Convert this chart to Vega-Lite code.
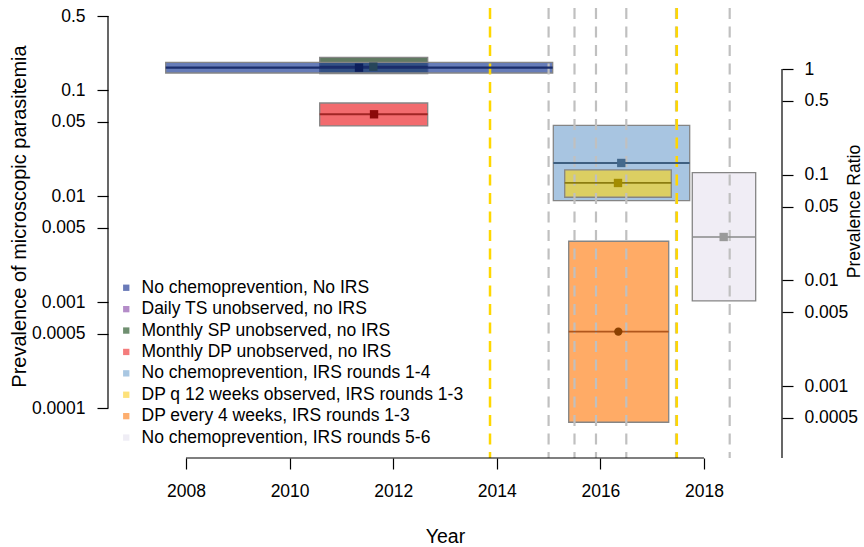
{
  "$schema": "https://vega.github.io/schema/vega-lite/v6.json",
  "width": 674,
  "height": 450,
  "autosize": "none",
  "padding": {"left": 108, "top": 8, "right": 82, "bottom": 89},
  "background": "white",
  "config": {
    "view": {"stroke": null},
    "font": "Liberation Sans",
    "axis": {
      "labelFont": "Liberation Sans", "titleFont": "Liberation Sans",
      "labelFontSize": 17.5, "titleFontSize": 17.5, "titleFontWeight": "normal",
      "labelColor": "black", "titleColor": "black", "tickColor": "black",
      "domain": false, "grid": false, "tickSize": 11, "tickWidth": 1.2
    },
    "legend": {
      "labelFont": "Liberation Sans", "labelFontSize": 17.5, "labelColor": "black", "labelLimit": 500
    }
  },
  "datasets": {
    "boxes": [
      {"group": "Monthly SP unobserved, no IRS", "start": 2010.581, "end": 2012.666, "lo": 0.1428, "hi": 0.2039, "med": 0.1662, "pt": 2011.616},
      {"group": "No chemoprevention, No IRS", "start": 2007.608, "end": 2015.079, "lo": 0.145, "hi": 0.1829, "med": 0.1627, "pt": 2011.34},
      {"group": "Monthly DP unobserved, no IRS", "start": 2010.581, "end": 2012.666, "lo": 0.0459, "hi": 0.0755, "med": 0.0591, "pt": 2011.63},
      {"group": "No chemoprevention, IRS rounds 1-4", "start": 2015.091, "end": 2017.724, "lo": 0.00905, "hi": 0.04655, "med": 0.02052, "pt": 2016.403},
      {"group": "DP q 12 weeks observed, IRS rounds 1-3", "start": 2015.311, "end": 2017.369, "lo": 0.00974, "hi": 0.01763, "med": 0.01329, "pt": 2016.34},
      {"group": "DP every 4 weeks, IRS rounds 1-3", "start": 2015.388, "end": 2017.319, "lo": 0.0000734, "hi": 0.003746, "med": 0.000526, "pt": 2016.346},
      {"group": "No chemoprevention, IRS rounds 5-6", "start": 2017.774, "end": 2018.998, "lo": 0.001024, "hi": 0.01662, "med": 0.00411, "pt": 2018.38}
    ],
    "grayLines": [{"year": 2015.0}, {"year": 2015.5}, {"year": 2015.915}, {"year": 2016.5}, {"year": 2017.46}, {"year": 2018.496}],
    "goldLines": [{"year": 2013.869}, {"year": 2017.475}],
    "xAxisLine": [{"from": 2008, "to": 2018}],
    "leftAxisLine": [{"top": 0.5, "bottom": 0.0001}],
    "rightAxisLine": [{"top": 1, "bottom": 0.000209}]
  },
  "layer": [
    {
      "resolve": {"scale": {"color": "independent", "shape": "independent", "size": "independent", "strokeWidth": "independent"}},
      "layer": [
        {
          "data": {"name": "boxes"},
          "mark": {"type": "rect", "stroke": "#858585", "strokeWidth": 1.3},
          "encoding": {
            "x": {"field": "start", "type": "quantitative", "scale": {"domain": [2006.494, 2019.506], "nice": false, "zero": false},
                  "axis": {"title": "Year", "values": [2008, 2010, 2012, 2014, 2016, 2018], "format": "d", "labelPadding": 13, "titleX": 337, "titleY": 78, "titleBaseline": "middle", "titleFontSize": 19.5}},
            "x2": {"field": "end"},
            "y": {"field": "lo", "type": "quantitative", "scale": {"type": "log", "domain": [0.00003376, 0.595], "nice": false},
                  "axis": {"title": "Prevalence of microscopic parasitemia", "values": [0.5, 0.1, 0.05, 0.01, 0.005, 0.001, 0.0005, 0.0001], "format": ".4~f", "labelPadding": 12, "titleX": -89, "titleY": 208, "titleBaseline": "middle", "titleAlign": "center", "titleAngle": 270, "titleFontSize": 20}},
            "y2": {"field": "hi"},
            "color": {"field": "group", "type": "nominal", "legend": null,
                      "scale": {"domain": ["No chemoprevention, No IRS", "Daily TS unobserved, no IRS", "Monthly SP unobserved, no IRS", "Monthly DP unobserved, no IRS", "No chemoprevention, IRS rounds 1-4", "DP q 12 weeks observed, IRS rounds 1-3", "DP every 4 weeks, IRS rounds 1-3", "No chemoprevention, IRS rounds 5-6"],
                                "range": ["rgba(30,62,150,0.68)", "#b48cc8", "#617a62", "#f26b6e", "#a8c5e1", "#dccf62", "#ffab66", "#f0edf5"]}}
          }
        },
        {
          "data": {"name": "grayLines"},
          "mark": {"type": "rule", "color": "#c0c0c0", "strokeWidth": 2.2, "strokeDash": [11, 7.5]},
          "encoding": {"x": {"field": "year", "type": "quantitative"}}
        },
        {
          "data": {"name": "goldLines"},
          "mark": {"type": "rule", "color": "#ffd700", "strokeWidth": 2.5, "strokeDash": [11, 7.5]},
          "encoding": {"x": {"field": "year", "type": "quantitative"}}
        },
        {
          "data": {"name": "boxes"},
          "mark": {"type": "rule"},
          "encoding": {
            "x": {"field": "start", "type": "quantitative"},
            "x2": {"field": "end"},
            "y": {"field": "med", "type": "quantitative"},
            "color": {"field": "group", "type": "nominal", "legend": null,
                      "scale": {"domain": ["No chemoprevention, No IRS", "Daily TS unobserved, no IRS", "Monthly SP unobserved, no IRS", "Monthly DP unobserved, no IRS", "No chemoprevention, IRS rounds 1-4", "DP q 12 weeks observed, IRS rounds 1-3", "DP every 4 weeks, IRS rounds 1-3", "No chemoprevention, IRS rounds 5-6"],
                                "range": ["#1a2d6b", "#6a4a80", "#1a2d6b", "#a12525", "#3e5f80", "#8c7c10", "#b0561c", "#8a8a8a"]}},
            "strokeWidth": {"field": "group", "type": "nominal", "legend": null,
                      "scale": {"domain": ["No chemoprevention, No IRS", "Daily TS unobserved, no IRS", "Monthly SP unobserved, no IRS", "Monthly DP unobserved, no IRS", "No chemoprevention, IRS rounds 1-4", "DP q 12 weeks observed, IRS rounds 1-3", "DP every 4 weeks, IRS rounds 1-3", "No chemoprevention, IRS rounds 5-6"],
                                "range": [2.2, 1.5, 1.5, 1.5, 1.3, 1.5, 2.5, 1.3]}}
          }
        },
        {
          "data": {"name": "boxes"},
          "mark": {"type": "point", "filled": true, "opacity": 1},
          "encoding": {
            "x": {"field": "pt", "type": "quantitative"},
            "y": {"field": "med", "type": "quantitative"},
            "color": {"field": "group", "type": "nominal", "legend": null,
                      "scale": {"domain": ["No chemoprevention, No IRS", "Daily TS unobserved, no IRS", "Monthly SP unobserved, no IRS", "Monthly DP unobserved, no IRS", "No chemoprevention, IRS rounds 1-4", "DP q 12 weeks observed, IRS rounds 1-3", "DP every 4 weeks, IRS rounds 1-3", "No chemoprevention, IRS rounds 5-6"],
                                "range": ["#0d1f5c", "#6a4a80", "#27465a", "#8b0a0a", "#44698c", "#a38c00", "#8b4000", "#9a9a9a"]}},
            "shape": {"field": "group", "type": "nominal", "legend": null,
                      "scale": {"domain": ["No chemoprevention, No IRS", "Daily TS unobserved, no IRS", "Monthly SP unobserved, no IRS", "Monthly DP unobserved, no IRS", "No chemoprevention, IRS rounds 1-4", "DP q 12 weeks observed, IRS rounds 1-3", "DP every 4 weeks, IRS rounds 1-3", "No chemoprevention, IRS rounds 5-6"],
                                "range": ["square", "square", "square", "square", "square", "square", "circle", "square"]}},
            "size": {"field": "group", "type": "nominal", "legend": null,
                      "scale": {"domain": ["No chemoprevention, No IRS", "Daily TS unobserved, no IRS", "Monthly SP unobserved, no IRS", "Monthly DP unobserved, no IRS", "No chemoprevention, IRS rounds 1-4", "DP q 12 weeks observed, IRS rounds 1-3", "DP every 4 weeks, IRS rounds 1-3", "No chemoprevention, IRS rounds 5-6"],
                                "range": [70, 70, 70, 70, 70, 70, 25, 70]}}
          }
        },
        {
          "data": {"name": "boxes"},
          "mark": {"type": "point", "filled": true, "shape": "square", "opacity": 0},
          "encoding": {
            "x": {"field": "pt", "type": "quantitative"},
            "y": {"field": "med", "type": "quantitative"},
            "color": {"field": "group", "type": "nominal",
                      "scale": {"domain": ["No chemoprevention, No IRS", "Daily TS unobserved, no IRS", "Monthly SP unobserved, no IRS", "Monthly DP unobserved, no IRS", "No chemoprevention, IRS rounds 1-4", "DP q 12 weeks observed, IRS rounds 1-3", "DP every 4 weeks, IRS rounds 1-3", "No chemoprevention, IRS rounds 5-6"],
                                "range": ["#6a7ab8", "#b48cc8", "#6f8f70", "#f47c7c", "#a9c7e2", "#fde17a", "#fdae6f", "#efedf5"]},
                      "legend": {"orient": "none", "legendX": 9.5, "legendY": 271, "title": null, "symbolType": "square", "symbolSize": 40, "symbolOpacity": 1, "symbolStrokeWidth": 0, "labelOffset": 6.5, "rowPadding": 2.4, "padding": 0}}
          }
        },
        {
          "data": {"name": "xAxisLine"},
          "mark": {"type": "rule", "color": "black", "strokeWidth": 1.2},
          "encoding": {
            "x": {"field": "from", "type": "quantitative"},
            "x2": {"field": "to"},
            "y": {"datum": 0.00003376}
          }
        },
        {
          "data": {"name": "leftAxisLine"},
          "mark": {"type": "rule", "color": "black", "strokeWidth": 1.2},
          "encoding": {
            "x": {"datum": 2006.494},
            "y": {"field": "top", "type": "quantitative"},
            "y2": {"field": "bottom"}
          }
        }
      ]
    },
    {
      "data": {"name": "rightAxisLine"},
      "mark": {"type": "rule", "color": "black", "strokeWidth": 1.2},
      "encoding": {
        "x": {"datum": 2019.506},
        "y": {"field": "top", "type": "quantitative",
              "scale": {"type": "log", "domain": [0.000209, 3.777], "nice": false},
              "axis": {"orient": "right", "title": "Prevalence Ratio", "values": [1, 0.5, 0.1, 0.05, 0.01, 0.005, 0.001, 0.0005], "format": ".4~f", "labelPadding": 11, "titleX": 72, "titleY": 203, "titleBaseline": "middle", "titleAlign": "center", "titleAngle": 270}},
        "y2": {"field": "bottom"}
      }
    }
  ],
  "resolve": {"scale": {"y": "independent"}, "axis": {"y": "independent"}}
}
